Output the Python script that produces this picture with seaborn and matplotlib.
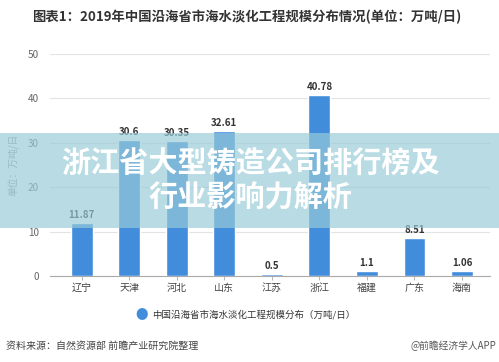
import matplotlib
matplotlib.use("Agg")
import matplotlib.pyplot as plt
import seaborn as sns
from matplotlib.patches import Rectangle

# data
provinces = ["辽宁", "天津", "河北", "山东", "江苏", "浙江", "福建", "广东", "海南"]
scale = [11.87, 30.6, 30.35, 32.61, 0.5, 40.78, 1.1, 8.51, 1.06]
y_ticks = [0, 10, 20, 30, 40, 50]

title = "图表1：2019年中国沿海省市海水淡化工程规模分布情况(单位：万吨/日)"
banner = "浙江省大型铸造公司排行榜及\n行业影响力解析"
legend_label = "中国沿海省市海水淡化工程规模分布（万吨/日）"
source = "资料来源：自然资源部 前瞻产业研究院整理"
brand = "@前瞻经济学人APP"

sns.set_style("white")
plt.rcParams['font.family'] = ['Noto Sans CJK SC', 'DejaVu Sans']

bar_color = "#428cdc"

fig = plt.figure(figsize=(4.99, 3.62), dpi=100)
ax = fig.add_axes([50 / 499, (362 - 276) / 362, 440 / 499, 222 / 362])

sns.barplot(x=provinces, y=scale, color=bar_color, saturation=1, width=0.46,
            ax=ax, zorder=3)

# value labels
for i, v in enumerate(scale):
    ax.text(i, v + 0.7, f"{v:g}", ha="center", va="bottom", fontsize=7,
            fontweight="bold", color="#333333")

ax.set_xlim(-0.67, 8.59)
ax.set_ylim(0, 50)
ax.set_yticks(y_ticks)
ax.yaxis.grid(True, color="#e3e3e3", linewidth=0.8, zorder=0)
ax.tick_params(axis="y", length=0, labelsize=7.2, labelcolor="#666666", pad=8)
ax.tick_params(axis="x", length=3, width=0.6, color="#aaaaaa", labelsize=7.2,
               labelcolor="#444444", pad=2, direction="out", bottom=True)
for s in ["top", "right", "left"]:
    ax.spines[s].set_visible(False)
ax.spines["bottom"].set_color("#aaaaaa")
ax.spines["bottom"].set_linewidth(0.8)
ax.set_xlabel("")
ax.set_ylabel("单位：万吨/日", fontsize=7, color="#999999", labelpad=6)

fig.text(0.495, 1 - 17 / 362, title, ha="center", va="center", fontsize=9.6,
         fontweight="bold", color="#333333")

# legend
fig.text(142 / 499, 1 - 315 / 362, "●", ha="center", va="center", fontsize=9,
         color=bar_color)
fig.text(152 / 499, 1 - 315 / 362, legend_label, ha="left", va="center",
         fontsize=6.8, color="#333333")

fig.text(6 / 499, 1 - 346 / 362, source, ha="left", va="center", fontsize=7.2,
         color="#444444")
fig.text(496 / 499, 1 - 346 / 362, brand, ha="right", va="center", fontsize=7,
         color="#555555")

# overlay banner
fig.patches.append(Rectangle((0, (362 - 228) / 362), 1, 95 / 362,
                             transform=fig.transFigure, facecolor="#98cbd7",
                             alpha=0.68, edgecolor="none", zorder=10))
fig.text(0.502, 1 - 163 / 362, banner.split("\n")[0], ha="center", va="center",
         fontsize=21, fontweight="bold", color="white", zorder=11)
fig.text(0.502, 1 - 198 / 362, banner.split("\n")[1], ha="center", va="center",
         fontsize=21, fontweight="bold", color="white", zorder=11)

fig.savefig("out.png", dpi=100)
